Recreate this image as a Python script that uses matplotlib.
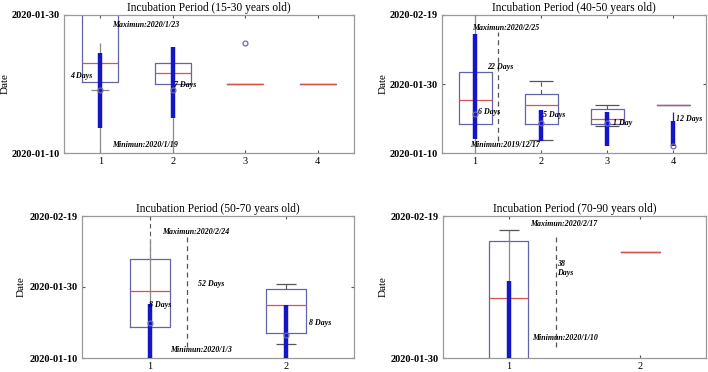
import numpy as np
import matplotlib
matplotlib.use("Agg")
import matplotlib.pyplot as plt

plt.rcParams['font.family'] = ['Liberation Serif', 'DejaVu Serif']

# y values are days after the panel's bottom date
titles = ["Incubation Period (15-30 years old)", "Incubation Period (40-50 years old)",
          "Incubation Period (50-70 years old)", "Incubation Period (70-90 years old)"]
ytick_vals = [[0, 20], [0, 20, 40], [0, 20, 40], [0, 20]]
ytick_labels = [["2020-01-10", "2020-01-30"],
                ["2020-01-10", "2020-01-30", "2020-02-19"],
                ["2020-01-10", "2020-01-30", "2020-02-19"],
                ["2020-01-30", "2020-02-19"]]

# panel 1 (15-30)
p1_q1 = [10.3, 10.0, 10.0, 10.0]
p1_med = [13.1, 11.6, 10.0, 10.0]
p1_q3 = [22.0, 13.1, 10.0, 10.0]
p1_whislo = [10.3, 10.0, 10.0, 10.0]
p1_whishi = [22.0, 13.1, 10.0, 10.0]
p1_caps = [(1, 9.1)]
p1_gray = [(1, -1, 16.0), (2, -1, 15.3)]
p1_bars = [(1, 3.6, 14.55), (2, 5.1, 15.3)]
p1_circles = [(1, 9.1), (2, 9.1), (3, 16.0)]
p1_dashed = []
p1_texts = [(1.17, 18.55, "Maximun:2020/1/23"), (1.16, 1.2, "Minimun:2020/1/19"),
            (0.58, 11.2, "4 Days"), (2.02, 9.8, "7 Days")]

# panel 2 (40-50)
p2_q1 = [8.4, 8.4, 8.4, 13.9]
p2_med = [15.4, 13.9, 9.9, 13.9]
p2_q3 = [23.4, 17.1, 12.8, 13.9]
p2_whislo = [8.4, 3.9, 7.9, 13.9]
p2_whishi = [23.4, 20.8, 13.8, 13.9]
p2_caps = [(2, 20.8), (2, 3.9), (3, 13.8), (3, 7.9)]
p2_gray = [(1, -1, 41)]
p2_bars = [(1, 4.0, 34.4), (2, 3.4, 12.5), (3, 1.9, 11.8), (4, 1.9, 9.2)]
p2_thin_blue = [(4, 9.2, 11.8)]
p2_circles = [(1, 11.4), (2, 8.8), (3, 8.8), (4, 1.9)]
p2_dashed = [(1.35, 3.4, 35.2)]
p2_texts = [(0.95, 36.3, "Maximun:2020/2/25"), (1.19, 24.9, "22 Days"),
            (1.05, 11.9, "6 Days"), (0.93, 2.3, "Minimun:2019/12/17"),
            (2.03, 11.1, "5 Days"), (3.09, 8.8, "1 Day"), (4.04, 9.8, "12 Days")]

# panel 3 (50-70)
p3_q1 = [8.7, 7.0]
p3_med = [18.8, 15.0]
p3_q3 = [27.9, 19.4]
p3_whislo = [8.7, 3.9]
p3_whishi = [42.0, 20.9]
p3_caps = [(2, 20.9), (2, 3.9)]
p3_gray = [(1, -1, 33.4)]
p3_bars = [(1, -1, 15.2), (2, -1, 14.9)]
p3_circles = [(1, 10.0), (2, 6.6)]
p3_dashed = [(1.27, 3.0, 35.3)]
p3_texts = [(1.09, 35.6, "Maximun:2020/2/24"), (1.35, 20.9, "52 Days"),
            (0.99, 15.0, "8 Days"), (1.15, 2.3, "Minimun:2020/1/3"),
            (2.17, 9.9, "8 Days")]

# panel 4 (70-90)
p4_q1 = [-2.0, 14.9]
p4_med = [8.4, 14.9]
p4_q3 = [16.5, 14.9]
p4_whislo = [-2.0, 14.9]
p4_whishi = [18.0, 14.9]
p4_caps = [(1, 18.0)]
p4_gray = [(1, -1, 18.0)]
p4_bars = [(1, -1, 10.9)]
p4_circles = []
p4_dashed = [(1.36, 1.5, 17.0)]
p4_texts = [(1.16, 18.9, "Maximun:2020/2/17"), (1.37, 12.6, "38\nDays"),
            (1.18, 2.8, "Minimun:2020/1/10")]

BOX = "#6464a8"
MED = "#d9534f"
BAR = "#1515c8"
GRAY = "#8a8a8a"

fig = plt.figure(figsize=(7.08, 3.72), dpi=100)
W, H = 708, 372
rects = [(64, 15, 354, 153), (442, 15, 706, 153), (82, 216, 354, 358), (443, 216, 706, 358)]
axes = [fig.add_axes([l / W, 1 - b / H, (r - l) / W, (b - t) / H]) for l, t, r, b in rects]

panels = [
    (p1_q1, p1_med, p1_q3, p1_whislo, p1_whishi, p1_caps, p1_gray, p1_bars, [], p1_circles, p1_dashed, p1_texts, 0.5, 0.25, 20),
    (p2_q1, p2_med, p2_q3, p2_whislo, p2_whishi, p2_caps, p2_gray, p2_bars, p2_thin_blue, p2_circles, p2_dashed, p2_texts, 0.5, 0.36, 40),
    (p3_q1, p3_med, p3_q3, p3_whislo, p3_whishi, p3_caps, p3_gray, p3_bars, [], p3_circles, p3_dashed, p3_texts, 0.3, 0.145, 40),
    (p4_q1, p4_med, p4_q3, p4_whislo, p4_whishi, p4_caps, p4_gray, p4_bars, [], p4_circles, p4_dashed, p4_texts, 0.3, 0.15, 20),
]
# right edge (px) of the rotated "Date" label
ylabel_x = [10, 388, 26, 388]

for i, ax in enumerate(axes):
    q1, med, q3, wlo, whi, caps, gray, bars, thin, circles, dashed, texts, bw, cw, ytop = panels[i]
    n = len(q1)
    stats = [dict(q1=q1[k], med=med[k], q3=q3[k], whislo=wlo[k], whishi=whi[k], fliers=[])
             for k in range(n)]
    ax.bxp(stats, positions=range(1, n + 1), widths=bw, showcaps=False, showfliers=False,
           boxprops=dict(color=BOX, lw=0.9), medianprops=dict(color=MED, lw=0.9),
           whiskerprops=dict(color="#555555", lw=0.8, ls=(0, (4, 3))))
    for x, lo, hi in gray:
        ax.vlines(x, lo, hi, color=GRAY, lw=0.9, zorder=3)
    for x, lo, hi in thin:
        ax.vlines(x, lo, hi, color=BAR, lw=0.9, zorder=3)
    for x, y in caps:
        ax.hlines(y, x - cw / 2, x + cw / 2, color="#555555" if i else GRAY, lw=0.9, zorder=3)
    for x, lo, hi in bars:
        ax.vlines(x, lo, hi, color=BAR, lw=3.2, zorder=4)
    if circles:
        cx, cy = zip(*circles)
        ax.plot(cx, cy, "o", ms=3.5, mfc="none", mec="#6a6ab0", mew=0.9, zorder=5)
    for x, lo, hi in dashed:
        ax.vlines(x, lo, hi, color="#555555", lw=0.9, ls=(0, (4, 3)), zorder=3)
    for x, y, s in texts:
        ax.text(x, y, s, fontsize=5.7, fontweight="bold", fontstyle="italic",
                ha="left", va="center", zorder=6)
    ax.set_xlim(0.5, n + 0.5)
    ax.set_ylim(0, ytop)
    ax.set_xticks(range(1, n + 1))
    ax.set_xticklabels([str(k) for k in range(1, n + 1)], fontsize=7.5)
    ax.set_yticks(ytick_vals[i])
    ax.set_yticklabels(ytick_labels[i], fontsize=7.5, fontweight="bold")
    ax.tick_params(direction="in", length=2.5, top=True, right=True, pad=3, color="#555555")
    for s in ax.spines.values():
        s.set_color("#999999")
        s.set_linewidth(0.9)
    ax.set_title(titles[i], fontsize=8.3, pad=3)
    ax.set_ylabel("Date", fontsize=8)
    l, t, r, b = rects[i]
    ax.yaxis.set_label_coords((ylabel_x[i] - l) / (r - l), 0.5)

fig.savefig("out.png", dpi=100)
